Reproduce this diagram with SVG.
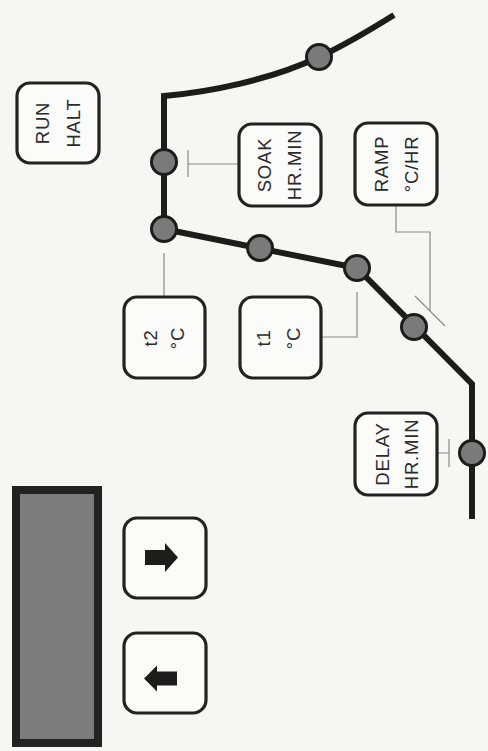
<svg xmlns="http://www.w3.org/2000/svg" width="488" height="751" viewBox="0 0 488 751">
  <style>
    .key { fill: #fbfbfa; stroke: #222; stroke-width: 3.2; }
    .lbl { font-family: "Liberation Sans", Arial, Helvetica, sans-serif; font-size: 18.5px; letter-spacing: 0.8px; fill: #2a2a2a; text-anchor: middle; }
    .profile { fill: none; stroke: #1c1c1c; stroke-width: 6; stroke-linejoin: miter; }
    .pt { fill: #7a7a7a; stroke: #1c1c1c; stroke-width: 3; }
    .lead { fill: none; stroke: #8a8a8a; stroke-width: 1.2; }
    .arrow { fill: #1c1c1c; }
  </style>
  <rect width="488" height="751" fill="#f6f6f4"/>

  <!-- display window -->
  <g id="display">
    <rect x="16" y="490" width="82" height="253" fill="#7c7c7c" stroke="#222" stroke-width="8"/>
  </g>

  <!-- arrow keys -->
  <g id="key-right">
    <rect class="key" x="124" y="518" width="82" height="80" rx="13"/>
    <path class="arrow" d="M145,550 H165 V543 L178,557.5 L165,572 V565 H145 Z"/>
  </g>
  <g id="key-left">
    <rect class="key" x="124" y="633" width="82" height="80" rx="13"/>
    <path class="arrow" d="M177,671.5 H157 V665.5 L144,678.5 L157,691.5 V685.5 H177 Z"/>
  </g>

  <!-- temperature profile -->
  <g id="connectors">
    <path class="profile" d="M394,15 C370,30 345,45 319,57 C270,80 210,92 164,96 V229 L357,268 L472,384 V519"/>
    <!-- leader lines from keys to profile points -->
    <path class="lead" d="M238,164 H188 M188,150 V177"/>
    <path class="lead" d="M164,297 V253"/>
    <path class="lead" d="M321,337 H357 V292"/>
    <path class="lead" d="M396,205 V232 H430 V311 M415,296 L445,326"/>
    <path class="lead" d="M437,453 H449 M449,439 V467"/>
  </g>

  <g id="points">
    <circle class="pt" cx="319" cy="57" r="12.5"/>
    <circle class="pt" cx="164" cy="162" r="12.5"/>
    <circle class="pt" cx="164" cy="229" r="12.5"/>
    <circle class="pt" cx="260" cy="248" r="12.5"/>
    <circle class="pt" cx="357" cy="268" r="12.5"/>
    <circle class="pt" cx="414" cy="327" r="12.5"/>
    <circle class="pt" cx="472" cy="453" r="12.5"/>
  </g>

  <!-- labelled keys, text reads bottom to top -->
  <g id="key-run">
    <rect class="key" x="17" y="83" width="82" height="80" rx="13"/>
    <g transform="translate(58,123) rotate(-90)">
      <text class="lbl" x="0" y="-9">RUN</text>
      <text class="lbl" x="0" y="21.5">HALT</text>
    </g>
  </g>
  <g id="key-soak">
    <rect class="key" x="239" y="124" width="82" height="82" rx="13"/>
    <g transform="translate(280,165) rotate(-90)">
      <text class="lbl" x="0" y="-9.5">SOAK</text>
      <text class="lbl" x="0" y="21">HR.MIN</text>
    </g>
  </g>
  <g id="key-ramp">
    <rect class="key" x="355" y="123" width="82" height="82" rx="13"/>
    <g transform="translate(396,164) rotate(-90)">
      <text class="lbl" x="0" y="-8.5">RAMP</text>
      <text class="lbl" x="0" y="21.5">°C/HR</text>
    </g>
  </g>
  <g id="key-t2">
    <rect class="key" x="124" y="297" width="81" height="81" rx="13"/>
    <g transform="translate(164,338) rotate(-90)">
      <text class="lbl" x="0" y="-7.5">t2</text>
      <text class="lbl" x="0" y="19.5">°C</text>
    </g>
  </g>
  <g id="key-t1">
    <rect class="key" x="240" y="297" width="81" height="81" rx="13"/>
    <g transform="translate(280,338) rotate(-90)">
      <text class="lbl" x="0" y="-10">t1</text>
      <text class="lbl" x="0" y="20">°C</text>
    </g>
  </g>
  <g id="key-delay">
    <rect class="key" x="355" y="413" width="82" height="82" rx="13"/>
    <g transform="translate(396,454) rotate(-90)">
      <text class="lbl" x="0" y="-7.5">DELAY</text>
      <text class="lbl" x="0" y="21.5">HR.MIN</text>
    </g>
  </g>
</svg>
